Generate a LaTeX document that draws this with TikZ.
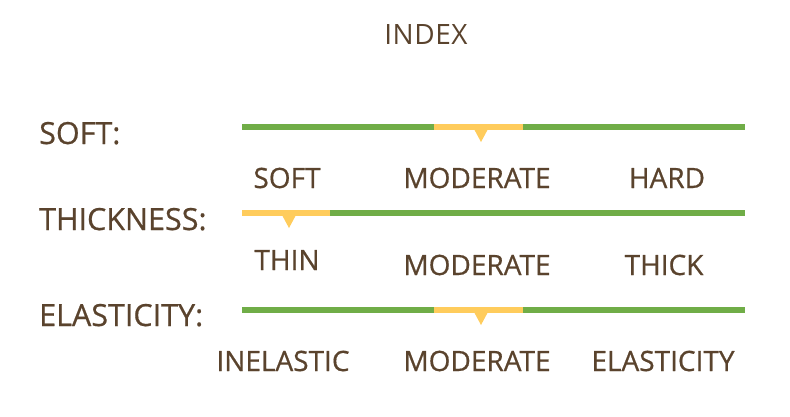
\documentclass[tikz,border=0pt]{standalone}
\usepackage{fontspec}
\setmainfont{Open Sans}
\newfontfamily\lblfont[FakeBold=0.6]{Open Sans}
\definecolor{txt}{HTML}{5A432D}
\definecolor{grn}{HTML}{70AD47}
\definecolor{ylw}{HTML}{FFCC5C}
\begin{document}
\begin{tikzpicture}[x=1pt,y=-1pt,
  lbl/.style={text=txt,font=\lblfont\fontsize{28}{30}\selectfont,inner sep=0pt,anchor=base},
  head/.style={lbl,anchor=base west,font=\lblfont\fontsize{30.5}{32}\selectfont},
  bar/.style={line width=6pt},
  gbar/.style={bar,draw=grn},
  ybar/.style={bar,draw=ylw},
  pointer/.style={fill=ylw,draw=none}]
\useasboundingbox (0,0) rectangle (790,416);
\node[lbl,font=\fontsize{28}{30}\selectfont\addfontfeature{LetterSpace=2}] (title) at (426,44) {INDEX};
% row 1
\node[head] (h1) at (39,144) {SOFT:};
\coordinate (a1) at (242,127); \coordinate (b1) at (434,127);
\coordinate (c1) at (523,127); \coordinate (d1) at (745,127);
\draw[gbar] (a1) -- (b1); \draw[ybar] (b1) -- (c1); \draw[gbar] (c1) -- (d1);
\fill[pointer] (474,129) -- (488,129) -- (481,142) -- cycle;
\node[lbl] (s1) at (287,188) {SOFT};
\node[lbl] (m1) at (477,188) {MODERATE};
\node[lbl] (r1) at (667,188) {HARD};
% row 2
\node[head] (h2) at (39,230) {THICKNESS:};
\coordinate (a2) at (242,213); \coordinate (b2) at (330,213);
\coordinate (d2) at (745,213);
\draw[ybar] (a2) -- (b2); \draw[gbar] (b2) -- (d2);
\fill[pointer] (282,215) -- (296,215) -- (289,228) -- cycle;
\node[lbl] (s2) at (287,270) {THIN};
\node[lbl] (m2) at (477,275) {MODERATE};
\node[lbl] (r2) at (664,275) {THICK};
% row 3
\node[head] (h3) at (39,326) {ELASTICITY:};
\coordinate (a3) at (242,310); \coordinate (b3) at (434,310);
\coordinate (c3) at (523,310); \coordinate (d3) at (745,310);
\draw[gbar] (a3) -- (b3); \draw[ybar] (b3) -- (c3); \draw[gbar] (c3) -- (d3);
\fill[pointer] (474,312) -- (488,312) -- (481,325) -- cycle;
\node[lbl] (s3) at (283,371) {INELASTIC};
\node[lbl] (m3) at (477,371) {MODERATE};
\node[lbl] (r3) at (663,371) {ELASTICITY};
\end{tikzpicture}
\end{document}
